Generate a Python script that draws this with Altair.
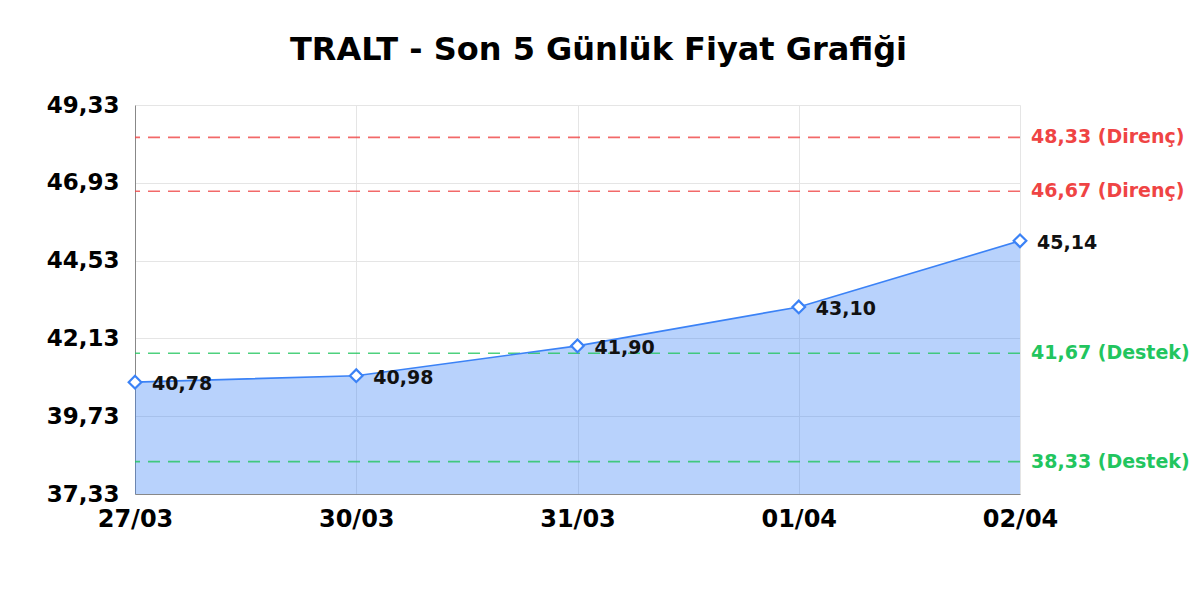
import altair as alt
import pandas as pd

# veri
tarihler = ["27/03", "30/03", "31/03", "01/04", "02/04"]
fiyatlar = [40.78, 40.98, 41.90, 43.10, 45.14]
seviyeler = [48.33, 46.67, 41.67, 38.33]
seviye_tipleri = ["Direnç", "Direnç", "Destek", "Destek"]
y_ticks = [37.33, 39.73, 42.13, 44.53, 46.93, 49.33]
y_min, y_max = 37.33, 49.33

FONT = "DejaVu Sans"
MAVI = "#3b82f6"
KIRMIZI = "#ef4444"
YESIL = "#22c55e"


def virgul(v):
    return f"{v:.2f}".replace(".", ",")


df = pd.DataFrame({"Tarih": tarihler, "Fiyat": fiyatlar})
df["Etiket"] = [virgul(v) for v in fiyatlar]

df_seviye = pd.DataFrame({"Seviye": seviyeler, "Tip": seviye_tipleri})
df_seviye["Etiket"] = [f"{virgul(v)} ({t})" for v, t in zip(seviyeler, seviye_tipleri)]

x_scale = alt.Scale(type="point", padding=0, domain=tarihler)
x_enc = alt.X(
    "Tarih:N",
    sort=tarihler,
    scale=x_scale,
    axis=alt.Axis(
        title=None, labelAngle=0, labelFont=FONT, labelFontSize=24, labelFontWeight="bold",
        labelColor="#000", labelPadding=13, ticks=False, grid=True, gridColor="#e5e5e5",
        domainColor="#888", labelOverlap=False,
    ),
)
y_scale = alt.Scale(domain=[y_min, y_max], nice=False, zero=False)
y_enc = alt.Y(
    "Fiyat:Q",
    scale=y_scale,
    axis=alt.Axis(
        title=None, values=y_ticks, labelFont=FONT, labelFontSize=23, labelFontWeight="bold",
        labelColor="#000", labelPadding=16, ticks=False, grid=True, gridColor="#e5e5e5",
        domainColor="#888", labelOverlap=False, labelBound=False, labelFlush=False,
        labelExpr="replace(format(datum.value, '.2f'), '.', ',')",
    ),
)
x_sade = alt.X("Tarih:N", sort=tarihler, scale=x_scale)

base = alt.Chart(df)

alan = base.mark_area(color=MAVI, opacity=0.36, line=False, clip=True).encode(
    x=x_enc, y=y_enc, y2=alt.datum(y_min)
)
cizgi = base.mark_line(color=MAVI, strokeWidth=1.6).encode(x=x_sade, y="Fiyat:Q")
noktalar = base.mark_point(
    shape="diamond", filled=True, fill="white", stroke=MAVI, strokeWidth=2.2, size=160, opacity=1
).encode(x=x_sade, y="Fiyat:Q")
etiketler = base.mark_text(
    align="left", baseline="middle", dx=17, dy=2, font=FONT, fontSize=19, fontWeight="bold", color="#111"
).encode(x=x_sade, y="Fiyat:Q", text="Etiket:N")

renk = alt.Color("Tip:N", scale=alt.Scale(domain=["Direnç", "Destek"], range=[KIRMIZI, YESIL]), legend=None)

seviye_cizgi = alt.Chart(df_seviye).mark_rule(strokeDash=[12, 8], strokeWidth=1.6, opacity=0.8).encode(
    y=alt.Y("Seviye:Q", scale=y_scale), color=renk
)
seviye_yazi = alt.Chart(df_seviye).mark_text(
    align="left", baseline="middle", dx=11, font=FONT, fontSize=19, fontWeight="bold"
).encode(y=alt.Y("Seviye:Q", scale=y_scale), x=alt.value(885), text="Etiket:N", color=renk)

chart = alt.layer(alan, seviye_cizgi, cizgi, noktalar, etiketler, seviye_yazi).properties(
    width=885,
    height=389,
    autosize=alt.AutoSizeParams(type="none"),
    padding={"left": 127, "top": 97, "right": 172, "bottom": 90},
    title=alt.TitleParams(
        "TRALT - Son 5 Günlük Fiyat Grafiği", font=FONT, fontSize=32, fontWeight="bold",
        color="#000", anchor="middle", dx=21, offset=27,
    ),
    background="white",
).configure_view(stroke=None)

chart.save("out.html", embed_options={"renderer": "svg", "actions": False})
